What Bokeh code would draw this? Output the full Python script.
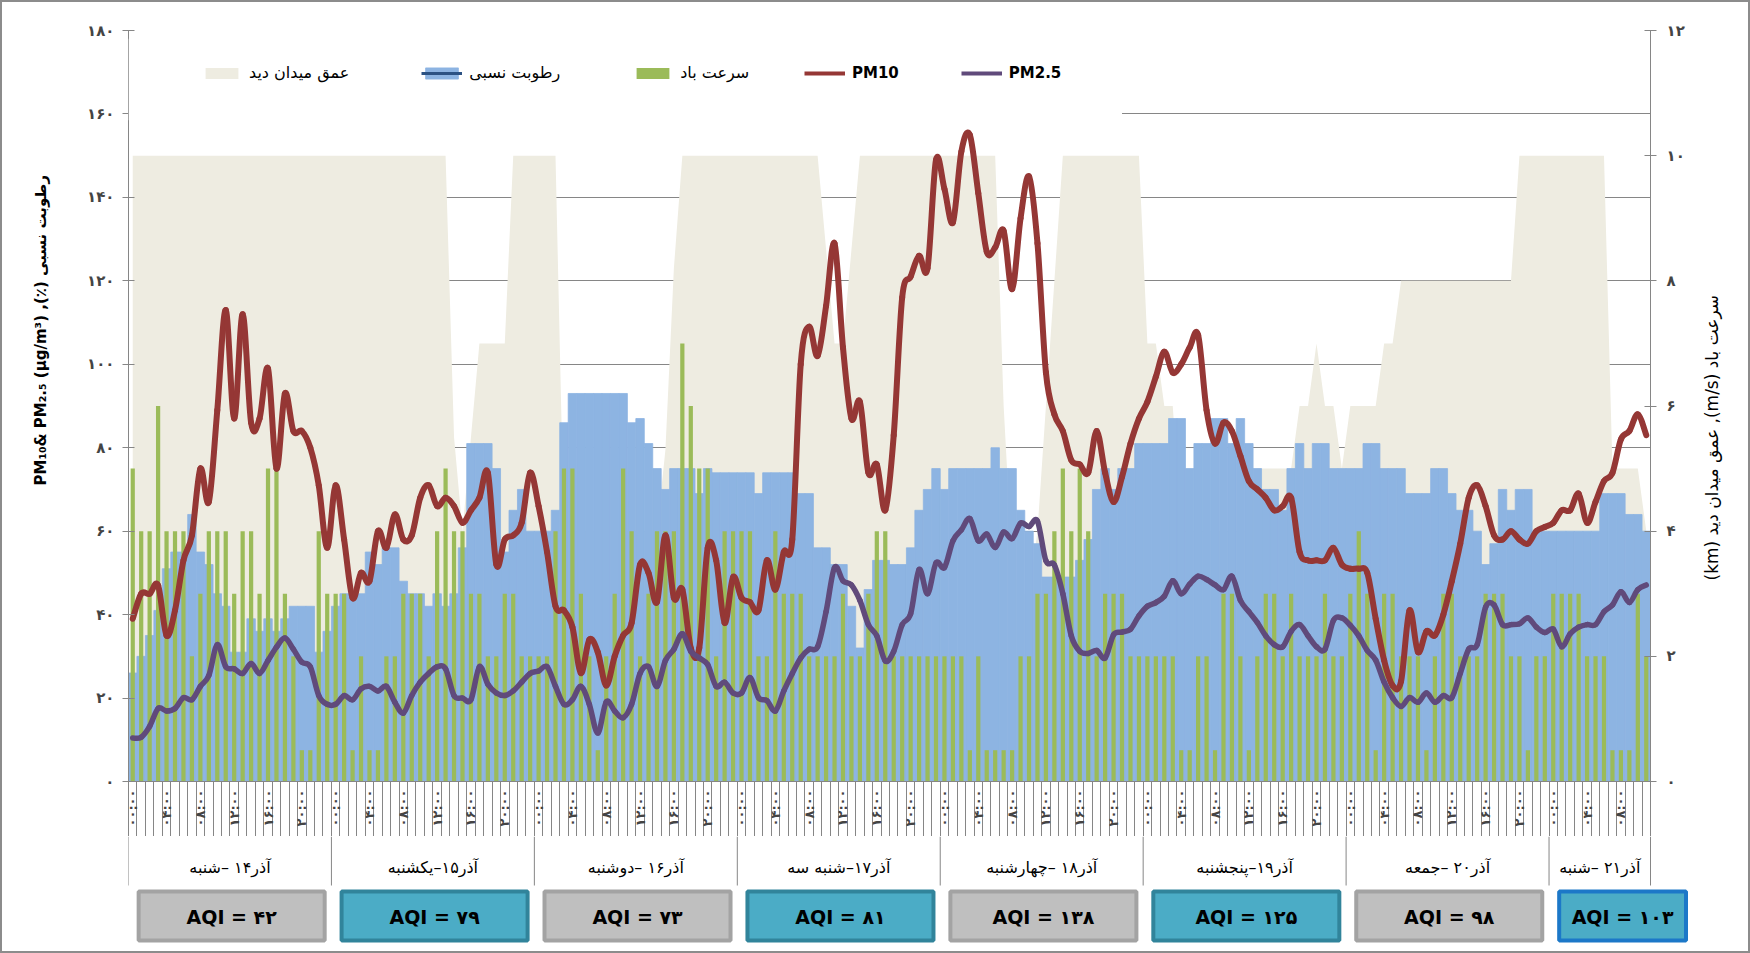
import math
from bokeh.plotting import figure
from bokeh.models import (Range1d, LinearAxis, FixedTicker, Legend, LegendItem,
                          BoxAnnotation, ColumnDataSource)
from bokeh.layouts import column, row
from bokeh.core.properties import value
from bokeh.embed import file_html
from bokeh.resources import INLINE

# ------------------------------------------------------------------ data
# day captions, written so that they display in the same visual order as the original
day_labels = [
    "آذر۱۴ –شنبه",
    "آذر۱۵–یکشنبه",
    "آذر۱۶ –دوشنبه",
    "آذر۱۷–شنبه سه",
    "آذر۱۸ –چهارشنبه",
    "آذر۱۹–پنجشنبه",
    "آذر۲۰ –جمعه",
    "آذر۲۱ –شنبه",
]
day_hours = [24, 24, 24, 24, 24, 24, 24, 12]
aqi = [42, 79, 73, 81, 138, 125, 98, 103]
hour_labels = {0: "۰۰:۰۰", 4: "۰۴:۰۰", 8: "۰۸:۰۰", 12: "۱۲:۰۰", 16: "۱۶:۰۰", 20: "۲۰:۰۰"}
left_ticks = [0, 20, 40, 60, 80, 100, 120, 140, 160, 180]
right_ticks = [0, 2, 4, 6, 8, 10, 12]
left_title = "PM₁₀& PM₂.₅ (µg/m³) ,(٪) رطوبت نسبی"
right_title = "(km)  عمق میدان دید ,(m/s) سرعت باد"

pm10 = [
    39, 45, 45, 47, 35, 41, 53, 59, 75, 67, 89, 113, 87, 112, 86, 87, 99, 75, 93, 84, 84, 80, 71, 56,
    71, 58, 44, 50, 48, 60, 56, 64, 58, 59, 68, 71, 66, 68, 66, 62, 65, 68, 74, 52, 58, 59, 62, 74,
    66, 55, 42, 41, 37, 26, 34, 31, 23, 30, 35, 38, 52, 50, 43, 59, 44, 46, 32, 32, 56, 53, 38, 49,
    44, 43, 41, 53, 46, 55, 58, 100, 109, 102, 114, 129, 104, 87, 91, 74, 76, 65, 83, 116, 121, 126, 123, 149,
    142, 134, 151, 155, 141, 127, 128, 132, 118, 135, 145, 129, 98, 88, 84, 77, 76, 74, 84, 74, 67, 73, 81, 87,
    91, 97, 103, 98, 100, 104, 107, 89, 81, 86, 84, 78, 72, 70, 68, 65, 66, 68, 55, 53, 53, 53, 56, 52,
    51, 51, 50, 39, 29, 23, 24, 41, 31, 36, 35, 40, 48, 57, 68, 71, 66, 59, 58, 60, 58, 57, 60, 61,
    62, 65, 65, 69, 62, 67, 72, 74, 82, 84, 88, 83,
]
pm25 = [
    10.4, 10.6, 13.2, 17.5, 16.9, 17.5, 20.1, 19.6, 22.8, 25.4, 32.8, 27.5, 27.0, 25.9, 28.3, 25.9, 29.0, 32.2, 34.4, 31.7, 28.6, 27.5, 20.6, 18.5,
    18.5, 20.6, 19.6, 22.2, 22.8, 21.7, 22.8, 19.0, 16.4, 20.6, 23.8, 25.9, 27.5, 27.0, 20.6, 20.0, 19.6, 27.5, 23.3, 21.2, 20.6, 21.7, 23.8, 25.9,
    26.5, 27.5, 22.8, 18.5, 19.6, 22.8, 18.5, 11.6, 19.1, 16.9, 15.3, 18.5, 25.9, 27.5, 22.8, 29.0, 31.7, 35.4, 31.2, 29.6, 28.0, 22.8, 23.8, 21.2,
    21.2, 24.9, 20.1, 19.4, 16.9, 21.7, 25.9, 29.6, 31.7, 32.3, 40.7, 51.3, 48.1, 47.1, 43.4, 37.6, 34.9, 28.9, 31.2, 37.6, 40.2, 50.8, 45.0, 52.4,
    51.3, 57.7, 60.3, 63.0, 57.7, 59.3, 56.1, 59.8, 58.2, 61.9, 61.1, 62.4, 52.9, 51.9, 45.0, 34.9, 31.2, 30.7, 31.4, 29.6, 35.2, 35.8, 36.5, 39.7,
    42.0, 42.9, 44.4, 48.1, 45.0, 47.3, 49.2, 48.4, 47.1, 46.0, 49.2, 43.4, 40.7, 38.1, 34.9, 32.8, 32.3, 36.0, 37.6, 34.9, 32.3, 31.7, 38.6, 39.2,
    37.4, 34.9, 31.4, 29.1, 23.8, 20.1, 18.0, 20.1, 19.0, 21.2, 19.0, 20.6, 20.1, 25.9, 31.7, 32.8, 41.8, 42.3, 37.6, 37.6, 37.8, 39.2, 37.0, 35.7,
    36.5, 32.3, 35.4, 37.0, 37.6, 37.6, 40.7, 42.3, 45.5, 42.9, 46.0, 47.1,
]
rh = [
    26, 30, 35, 41, 51, 55, 55, 64, 55, 52, 45, 42, 31, 31, 39, 36, 39, 36, 39, 42, 42, 42, 31, 36,
    42, 45, 45, 45, 55, 52, 56, 56, 48, 45, 45, 42, 45, 42, 45, 56, 81, 81, 81, 75, 55, 65, 70, 60,
    60, 60, 65, 86, 93, 93, 93, 93, 93, 93, 93, 86, 87, 81, 75, 70, 75, 75, 75, 69, 75, 74, 74, 74,
    74, 74, 69, 74, 74, 74, 74, 69, 69, 56, 56, 52, 52, 42, 32, 46, 53, 53, 52, 52, 56, 65, 70, 75,
    70, 75, 75, 75, 75, 75, 80, 75, 75, 65, 60, 57, 49, 49, 49, 49, 53, 58, 70, 75, 70, 75, 75, 81,
    81, 81, 81, 87, 87, 75, 81, 81, 87, 87, 81, 87, 81, 75, 70, 70, 65, 75, 81, 75, 81, 81, 75, 75,
    75, 75, 81, 81, 75, 75, 75, 69, 69, 69, 75, 75, 69, 65, 65, 60, 52, 57, 70, 65, 70, 70, 60, 60,
    60, 60, 60, 60, 60, 60, 69, 69, 69, 64, 64, 60,
]
wind = [
    5, 4, 4, 6, 4, 4, 4, 2, 3, 4, 4, 4, 3, 4, 4, 3, 5, 5, 3, 2, 0.5, 0.5, 4, 3,
    3, 3, 0.5, 2, 0.5, 0.5, 2, 2, 3, 3, 3, 2, 4, 5, 4, 4, 3, 3, 2, 2, 3, 3, 2, 2,
    2, 2, 4, 5, 5, 3, 2, 0.5, 2, 3, 5, 4, 2, 3, 4, 4, 4, 7, 6, 5, 5, 2, 4, 4,
    4, 4, 2, 2, 4, 3, 3, 3, 2, 2, 2, 2, 3, 2, 2, 3, 4, 4, 2, 2, 2, 2, 2, 2,
    2, 2, 2, 0.5, 2, 0.5, 0.5, 0.5, 0.5, 2, 2, 3, 3, 4, 5, 4, 5, 4, 2, 3, 3, 3, 2, 2,
    2, 2, 2, 2, 0.5, 0.5, 2, 2, 0.5, 3, 3, 2, 0.5, 2, 3, 3, 2, 3, 2, 2, 2, 3, 2, 2,
    3, 4, 3, 0.5, 3, 3, 2, 2, 2, 0.5, 2, 3, 3, 2, 2, 2, 3, 3, 3, 2, 2, 0.5, 2, 2,
    3, 3, 3, 3, 2, 2, 2, 0.5, 0.5, 0.5, 3, 2,
]
vis = [
    10, 10, 10, 10, 10, 10, 10, 10, 10, 10, 10, 10, 10, 10, 10, 10, 10, 10, 10, 10, 10, 10, 10, 10,
    10, 10, 10, 10, 10, 10, 10, 10, 10, 10, 10, 10, 10, 10, 5.5, 4, 5.5, 7, 7, 7, 7, 10, 10, 10,
    10, 10, 10, 4, 4, 4, 4, 4, 4, 4, 4, 4, 4, 4, 4, 5.3, 8.2, 10, 10, 10, 10, 10, 10, 10,
    10, 10, 10, 10, 10, 10, 10, 10, 10, 10, 8.5, 7, 7, 8.5, 10, 10, 10, 10, 10, 10, 10, 10, 10, 10,
    10, 10, 10, 10, 10, 10, 10, 6, 3.5, 3, 3, 4, 6, 8, 10, 10, 10, 10, 10, 10, 10, 10, 10, 10,
    7, 7, 6, 6, 4, 4, 4, 4, 4, 4, 4, 4, 4, 5, 5, 5, 5, 5, 6, 6, 7, 6, 6, 5,
    6, 6, 6, 6, 7, 7, 8, 8, 8, 8, 8, 8, 8, 8, 8, 8, 8, 8, 8, 8, 10, 10, 10, 10,
    10, 10, 10, 10, 10, 10, 10, 5, 5, 5, 5, 4,
]

# ------------------------------------------------------------------ styles / layout
C_VIS, C_RH, C_WIND = "#EEECE1", "#8DB4E2", "#9BBB59"
C_PM10, C_PM25, C_GRID = "#953735", "#604A7B", "#868686"
FA_FONT = "DejaVu Sans"
box_style = ["gray", "teal", "gray", "teal", "gray", "teal", "gray", "blue"]
box_fill = {"gray": "#BFBFBF", "teal": "#4BACC6", "blue": "#4BACC6"}
box_line = {"gray": "#A3A3A3", "teal": "#31849B", "blue": "#1C78C8"}
NAN = float("nan")
BORDER = 2
PAGE_W, PAGE_H = 1750, 953
INNER_H = PAGE_H - 2 * BORDER

W_LEFT_T = 66            # strip holding the left title
W_RIGHT_T = 56           # strip holding the right title
FW, FH = 1522, 751       # plot frame
TOP, BOTTOM = 30 - BORDER, 55
LEFT = 128 - BORDER - W_LEFT_T
MID_W = PAGE_W - 2 * BORDER - W_LEFT_T - W_RIGHT_T
RIGHT = MID_W - LEFT - FW


def fa(n):
    return str(n).translate(str.maketrans("0123456789", "۰۱۲۳۴۵۶۷۸۹"))


def bezier_source(xs, ys):
    n = len(xs)
    d = dict(x0=[], y0=[], x1=[], y1=[], cx0=[], cy0=[], cx1=[], cy1=[])
    for i in range(n - 1):
        a = max(i - 1, 0)
        b = min(i + 2, n - 1)
        d["x0"].append(xs[i]); d["y0"].append(ys[i])
        d["x1"].append(xs[i + 1]); d["y1"].append(ys[i + 1])
        d["cx0"].append(xs[i] + (xs[i + 1] - xs[a]) / 6.0)
        d["cy0"].append(ys[i] + (ys[i + 1] - ys[a]) / 6.0)
        d["cx1"].append(xs[i + 1] - (xs[b] - xs[i]) / 6.0)
        d["cy1"].append(ys[i + 1] - (ys[b] - ys[i]) / 6.0)
    return ColumnDataSource(d)


def strip(width, height):
    f = figure(frame_width=width, frame_height=height, x_range=Range1d(0, width),
               y_range=Range1d(height, 0), output_backend="svg", toolbar_location=None,
               x_axis_location=None, y_axis_location=None, min_border=0,
               outline_line_color=None, background_fill_color="white",
               border_fill_color="white")
    f.grid.visible = False
    return f


N = len(pm10)
hours = list(range(N))
px_per_hour = FW / N

# ------------------------------------------------------------------ main chart
p = figure(frame_width=FW, frame_height=FH, x_range=Range1d(-0.5, N - 0.5),
           y_range=Range1d(0, 180), output_backend="svg", toolbar_location=None,
           min_border_left=LEFT, min_border_right=RIGHT, min_border_top=TOP,
           min_border_bottom=BOTTOM, outline_line_color=None,
           background_fill_color="white", border_fill_color="white")
p.extra_y_ranges = {"right": Range1d(0, 12)}

src = ColumnDataSource(dict(x=hours, pm10=pm10, pm25=pm25, rh=rh, wind=wind, vis=vis))

# white box of the legend (hides the grid line under it)
p.add_layout(BoxAnnotation(left=-0.5, right=117, bottom=158.5, top=178,
                           fill_color="white", fill_alpha=1.0, line_color=None))

r_vis = p.varea(x="x", y1=0, y2="vis", source=src, y_range_name="right", fill_color=C_VIS)
r_rh = p.vbar(x="x", top="rh", width=1.0, source=src, fill_color=C_RH,
              line_color=C_RH, line_width=0.8)
r_wind = p.vbar(x="x", top="wind", width=0.5, source=src, y_range_name="right",
                fill_color=C_WIND, line_color=None)
p.bezier(x0="x0", y0="y0", x1="x1", y1="y1", cx0="cx0", cy0="cy0", cx1="cx1", cy1="cy1",
         source=bezier_source(hours, pm10), line_color=C_PM10, line_width=6, line_cap="round")
p.bezier(x0="x0", y0="y0", x1="x1", y1="y1", cx0="cx0", cy0="cy0", cx1="cx1", cy1="cy1",
         source=bezier_source(hours, pm25), line_color=C_PM25, line_width=5.5, line_cap="round")

# legend-only glyphs (no visible data)
l_rh = p.line(x=[NAN], y=[NAN], line_color="#2C5283", line_width=3)
l_pm10 = p.line(x=[NAN], y=[NAN], line_color=C_PM10, line_width=4)
l_pm25 = p.line(x=[NAN], y=[NAN], line_color=C_PM25, line_width=4)

legend_common = dict(orientation="horizontal", padding=0, margin=0, label_standoff=7,
                     glyph_width=41, glyph_height=14, label_height=14,
                     background_fill_alpha=0, border_line_color=None,
                     label_text_font=FA_FONT, label_text_color="black")
legend_fa = Legend(items=[
    LegendItem(label="عمق میدان دید", renderers=[r_vis]),
    LegendItem(label="رطوبت نسبی", renderers=[r_rh, l_rh]),
    LegendItem(label="سرعت باد", renderers=[r_wind]),
], location=(73, FH - 52), spacing=72, label_text_font_size="16px", **legend_common)
legend_pm = Legend(items=[
    LegendItem(label="PM10", renderers=[l_pm10]),
    LegendItem(label="PM2.5", renderers=[l_pm25]),
], location=(676, FH - 52), spacing=62, label_text_font_size="15px",
    label_text_font_style="bold", **legend_common)
p.add_layout(legend_fa)
p.add_layout(legend_pm)

# grid
p.xgrid.visible = False
p.ygrid.ticker = FixedTicker(ticks=left_ticks[1:])
p.ygrid.grid_line_color = C_GRID
p.ygrid.grid_line_width = 1

# x axis: hourly ticks, labels every 4 hours inside the tick band
xa = p.xaxis[0]
xa.ticker = FixedTicker(ticks=list(range(0, N, 4)), minor_ticks=[h - 0.5 for h in range(N + 1)])
xa.major_label_overrides = {h: hour_labels[h % 24] for h in range(0, N, 4)}
xa.major_label_orientation = math.pi / 2
xa.major_tick_out = 0
xa.major_tick_in = 0
xa.minor_tick_out = 55
xa.minor_tick_in = 0
xa.minor_tick_line_color = C_GRID
xa.axis_line_color = C_GRID
xa.major_label_standoff = -47
xa.major_label_text_font = FA_FONT
xa.major_label_text_font_style = "bold"
xa.major_label_text_font_size = "13px"

# left axis
ya = p.yaxis[0]
ya.ticker = FixedTicker(ticks=left_ticks)
ya.major_label_overrides = {v: fa(v) for v in left_ticks}
ya.minor_tick_line_color = None
ya.major_tick_in = 6
ya.major_tick_out = 6
ya.major_tick_line_color = C_GRID
ya.axis_line_color = C_GRID
ya.major_label_standoff = 8
ya.major_label_text_font = FA_FONT
ya.major_label_text_font_style = "bold"
ya.major_label_text_font_size = "15px"

# right axis
ra = LinearAxis(y_range_name="right", ticker=FixedTicker(ticks=right_ticks))
ra.major_label_overrides = {v: fa(v) for v in right_ticks}
ra.minor_tick_line_color = None
ra.major_tick_in = 6
ra.major_tick_out = 6
ra.major_tick_line_color = C_GRID
ra.axis_line_color = C_GRID
ra.major_label_standoff = 10
ra.major_label_text_font = FA_FONT
ra.major_label_text_font_style = "bold"
ra.major_label_text_font_size = "15px"
p.add_layout(ra, "right")

# ------------------------------------------------------------------ day row + AQI boxes
FW2 = MID_W - LEFT
FH2 = INNER_H - (TOP + FH + BOTTOM)
p2 = figure(frame_width=FW2, frame_height=FH2,
            x_range=Range1d(-0.5, -0.5 + FW2 / px_per_hour), y_range=Range1d(FH2, 0),
            output_backend="svg", toolbar_location=None, x_axis_location=None,
            y_axis_location=None, min_border_left=LEFT, min_border_right=0,
            min_border_top=0, min_border_bottom=0, outline_line_color=None,
            background_fill_color="white", border_fill_color="white")
p2.grid.visible = False

starts = [0]
for h in day_hours:
    starts.append(starts[-1] + h)
bounds = [s - 0.5 for s in starts]
p2.segment(x0=bounds, y0=[0] * len(bounds), x1=bounds, y1=[49] * len(bounds),
           line_color=C_GRID, line_width=1)
centers = [starts[i] + day_hours[i] / 2 - 0.5 for i in range(len(day_hours))]
p2.text(x=centers, y=[31] * len(centers), text=day_labels, text_align="center",
        text_baseline="middle", text_font=value(FA_FONT), text_font_size="16px",
        text_color="black")

box_left = [bounds[i] + 1.2 for i in range(len(day_hours))]
box_right = [box_left[i] + (22 if day_hours[i] == 24 else 15) for i in range(len(day_hours))]
box_src = ColumnDataSource(dict(
    left=box_left, right=box_right,
    cx=[(a + b) / 2 for a, b in zip(box_left, box_right)],
    fill=[box_fill[s] for s in box_style], line=[box_line[s] for s in box_style],
    label=["AQI = " + fa(a) for a in aqi]))
p2.quad(left="left", right="right", bottom=104, top=55, source=box_src,
        fill_color="fill", line_color="line", line_width=4)
p2.text(x="cx", y=80, text="label", source=box_src, text_align="center",
        text_baseline="middle", text_font=value(FA_FONT), text_font_style="bold",
        text_font_size="19px", text_color="black")

# ------------------------------------------------------------------ axis titles
t_left = strip(W_LEFT_T, INNER_H)
t_left.text(x=[40 - BORDER], y=[485 - BORDER], text=[left_title], angle=math.pi / 2,
            text_align="left", text_baseline="middle", text_font=value(FA_FONT),
            text_font_style="bold", text_font_size="15px", text_color="black")
t_right = strip(W_RIGHT_T, INNER_H)
t_right.text(x=[19], y=[580 - BORDER], text=[right_title], angle=math.pi / 2,
             text_align="left", text_baseline="middle", text_font=value(FA_FONT),
             text_font_style="normal", text_font_size="17px", text_color="black")

layout = row(t_left, column(p, p2, spacing=0), t_right, spacing=0,
             styles={"border": "%dpx solid #8C8C8C" % BORDER, "background-color": "white"})
open("out.html", "w").write(file_html(layout, INLINE, "chart"))
